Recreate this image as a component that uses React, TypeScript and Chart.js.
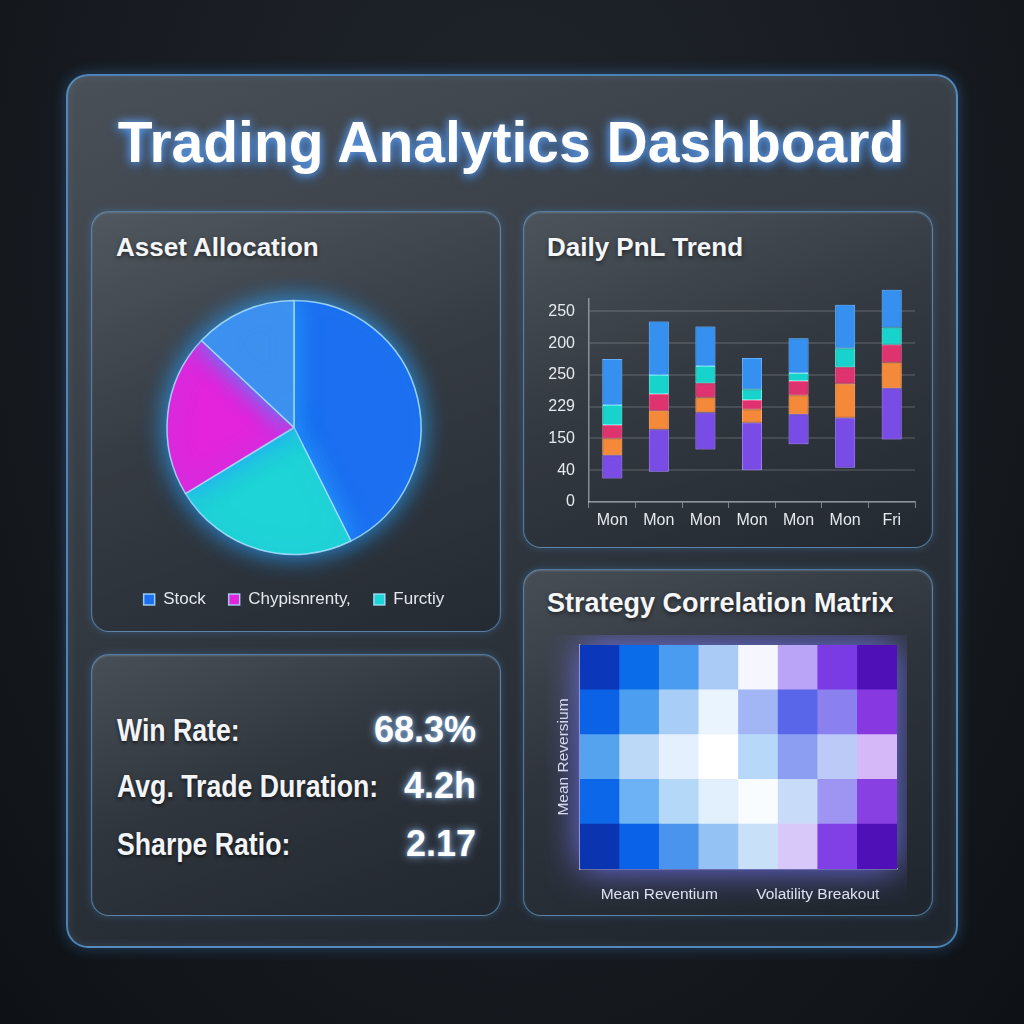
import React, { useEffect, useRef } from "react";
import { Chart, registerables } from "chart.js";

Chart.register(...registerables);

const FONT = "'Liberation Sans', Arial, sans-serif";

// ---------- Asset allocation (pie) ----------
const allocationLabels = ["Stock", "Furctiy", "Chypisnrenty,", "Other"];
const allocationValues = [42.6, 23.7, 20.7, 13.0];
const allocationColors = ["#1c6ff0", "#1fd4d6", "#e324dc", "#3e90ef"];
const allocationLegendOrder = ["Stock", "Chypisnrenty,", "Furctiy"];

// ---------- Daily PnL (floating stacked bars, in axis-tick units) ----------
const pnlDays = ["Mon", "Mon", "Mon", "Mon", "Mon", "Mon", "Fri"];
const pnlTickLabels = ["0", "40", "150", "229", "250", "200", "250"];
const purpleLow = [0.74, 0.95, 1.65, 1.0, 1.82, 1.08, 1.97];
const purpleHigh = [1.47, 2.28, 2.82, 2.49, 2.76, 2.65, 3.58];
const orangeHigh = [2.0, 2.87, 3.29, 2.92, 3.36, 3.72, 4.39];
const pinkHigh = [2.42, 3.4, 3.74, 3.21, 3.81, 4.24, 4.95];
const cyanHigh = [3.05, 4.0, 4.28, 3.55, 4.06, 4.84, 5.49];
const blueHigh = [4.5, 5.68, 5.52, 4.53, 5.15, 6.21, 6.68];

// ---------- Correlation matrix ----------
const heatCols = ["S1", "S2", "S3", "S4", "S5", "S6", "S7", "S8"];
const heatXLabels = ["Mean Reventium", "Volatility Breakout"];
const heatXLabelPos = [2, 6];
const heatYTitle = "Mean Reversium";
// rows listed top to bottom
const heatRow1 = ["#0b37ba", "#0a6ce8", "#4a9cf0", "#a9cbf6", "#f6f6fe", "#b9a4f8", "#7a3ae4", "#5010b8"];
const heatRow2 = ["#0c62e6", "#4c9ef0", "#a8cdf6", "#eaf4fe", "#a2b6f6", "#5a66ea", "#8a80f0", "#8838e0"];
const heatRow3 = ["#55a2ee", "#bcdaf8", "#e4f0fd", "#ffffff", "#b8d8fa", "#8c9ef2", "#bccaf8", "#d4b8f8"];
const heatRow4 = ["#0c68e8", "#6cb2f4", "#b4d8f8", "#e2f0fd", "#f8fcff", "#c8dcfa", "#9e94f2", "#8840e2"];
const heatRow5 = ["#0a34b0", "#0a62e8", "#4a94ee", "#94c2f4", "#c8e0f8", "#d8c8fa", "#8040e6", "#5010b8"];
const heatRows = [heatRow1, heatRow2, heatRow3, heatRow4, heatRow5];

// ---------- Stats ----------
const statLabels = ["Win Rate:", "Avg. Trade Duration:", "Sharpe Ratio:"];
const statValues = ["68.3%", "4.2h", "2.17"];

function ChartBox(props: { make: () => any; left: number; top: number; width: number; height: number }) {
  const ref = useRef<HTMLCanvasElement>(null);
  useEffect(() => {
    const chart = new Chart(ref.current as HTMLCanvasElement, props.make());
    return () => chart.destroy();
  }, []);
  return (
    <canvas
      ref={ref}
      width={props.width}
      height={props.height}
      style={{ position: "absolute", left: props.left, top: props.top, width: props.width, height: props.height, display: "block" }}
    />
  );
}

const pieGlow = {
  id: "pieGlow",
  beforeDatasetsDraw(chart: any) {
    const c = chart.ctx;
    c.save();
    c.shadowColor = "rgba(40,160,255,0.95)";
    c.shadowBlur = 26;
  },
  afterDatasetsDraw(chart: any) {
    chart.ctx.restore();
  },
};

const barGlow = {
  id: "barGlow",
  beforeDatasetDraw(chart: any, args: any) {
    const c = chart.ctx;
    c.save();
    c.shadowColor = chart.data.datasets[args.index].glow;
    c.shadowBlur = 12;
  },
  afterDatasetDraw(chart: any) {
    chart.ctx.restore();
  },
};

const heatGlow = {
  id: "heatGlow",
  beforeDatasetsDraw(chart: any) {
    const c = chart.ctx;
    const a = chart.chartArea;
    c.save();
    c.shadowColor = "rgba(120,120,255,0.9)";
    c.shadowBlur = 34;
    c.fillStyle = "#6a7ae8";
    c.fillRect(a.left, a.top, a.right - a.left, a.bottom - a.top);
    c.restore();
  },
};

function makePie() {
  return {
    type: "pie",
    data: {
      labels: allocationLabels,
      datasets: [
        {
          data: allocationValues,
          backgroundColor: allocationColors,
          borderColor: "rgba(170,225,255,0.85)",
          borderWidth: 1.5,
          radius: 127,
        },
      ],
    },
    options: {
      responsive: false,
      animation: false,
      layout: { padding: { top: 8, right: 10, left: 0, bottom: 0 } },
      plugins: {
        tooltip: { enabled: false },
        legend: {
          position: "bottom",
          labels: {
            color: "#e4e8ee",
            font: { family: FONT, size: 17 },
            boxWidth: 11,
            boxHeight: 11,
            padding: 23,
            filter: (item: any) => allocationLegendOrder.includes(item.text),
            sort: (a: any, b: any) => allocationLegendOrder.indexOf(a.text) - allocationLegendOrder.indexOf(b.text),
          },
        },
      },
    },
    plugins: [pieGlow],
  };
}

function seg(label: string, low: number[], high: number[], fill: string, border: string) {
  return {
    label,
    data: pnlDays.map((_, i) => [low[i], high[i]]),
    backgroundColor: fill,
    borderColor: border,
    glow: fill,
    borderWidth: 1,
    borderSkipped: false,
    grouped: false,
    clip: false,
    barPercentage: 0.43,
    categoryPercentage: 1,
  };
}

function makeBars() {
  return {
    type: "bar",
    data: {
      labels: pnlDays,
      datasets: [
        seg("Purple", purpleLow, purpleHigh, "#7a4ce6", "#b39bff"),
        seg("Orange", purpleHigh, orangeHigh, "#f5893a", "#ffb27a"),
        seg("Pink", orangeHigh, pinkHigh, "#df3370", "#ff7fa8"),
        seg("Cyan", pinkHigh, cyanHigh, "#17d3cc", "#8ff5f0"),
        seg("Blue", cyanHigh, blueHigh, "#3590f0", "#7cc0ff"),
      ],
    },
    options: {
      responsive: false,
      animation: false,
      layout: { padding: { top: 0, right: 10, left: 0, bottom: 0 } },
      plugins: { legend: { display: false }, tooltip: { enabled: false } },
      scales: {
        x: {
          offset: true,
          afterFit: (s: any) => {
            s.height = 38;
          },
          grid: { display: true, drawOnChartArea: false, drawTicks: true, tickLength: 6, color: "rgba(190,200,210,0.55)" },
          border: { display: true, color: "rgba(190,200,210,0.6)", width: 1.5 },
          ticks: { color: "#e6eaef", font: { family: FONT, size: 16 }, padding: 3 },
        },
        y: {
          min: 0,
          max: 6.4,
          afterFit: (s: any) => {
            s.width = 54;
          },
          afterBuildTicks: (axis: any) => {
            axis.ticks = pnlTickLabels.map((_, i) => ({ value: i }));
          },
          grid: { color: "rgba(255,255,255,0.12)", lineWidth: 2, drawTicks: false },
          border: { display: true, color: "rgba(190,200,210,0.6)", width: 1.5 },
          ticks: {
            color: "#e6eaef",
            font: { family: FONT, size: 16 },
            padding: 14,
            callback: (v: any) => pnlTickLabels[v],
          },
        },
      },
    },
    plugins: [barGlow],
  };
}

function makeHeat() {
  const rowsBottomUp = heatRows.slice().reverse();
  return {
    type: "bar",
    data: {
      labels: heatCols,
      datasets: rowsBottomUp.map((row, r) => ({
        label: "row" + r,
        data: heatCols.map(() => 1),
        backgroundColor: row,
        borderWidth: 0,
        barPercentage: 1,
        categoryPercentage: 1,
        xAxisID: "x",
      })),
    },
    options: {
      responsive: false,
      animation: false,
      layout: { padding: { top: 10, right: 10, left: 0, bottom: 0 } },
      plugins: { legend: { display: false }, tooltip: { enabled: false } },
      scales: {
        x: { stacked: true, display: false },
        x2: {
          type: "linear",
          axis: "x",
          position: "bottom",
          offset: false,
          min: 0,
          max: heatCols.length,
          bounds: "data",
          afterFit: (s: any) => {
            s.height = 36;
          },
          afterBuildTicks: (axis: any) => {
            axis.ticks = heatXLabelPos.map((p) => ({ value: p }));
          },
          grid: { display: false, offset: false },
          border: { display: true, color: "rgba(200,210,225,0.75)", width: 1.5 },
          ticks: {
            color: "#e6eaef",
            font: { family: FONT, size: 15.5 },
            padding: 8,
            callback: (_v: any, i: number) => heatXLabels[i],
          },
        },
        y: {
          stacked: true,
          min: 0,
          max: heatRows.length,
          afterFit: (s: any) => {
            s.width = 35;
          },
          grid: { display: false },
          border: { display: true, color: "rgba(200,210,225,0.75)", width: 1.5 },
          ticks: { display: false },
          title: {
            display: true,
            text: heatYTitle,
            color: "#e6eaef",
            font: { family: FONT, size: 15.5 },
            padding: { top: 9, bottom: 0 },
          },
        },
      },
    },
    plugins: [heatGlow],
  };
}

const cardStyle = (left: number, top: number, width: number, height: number): React.CSSProperties => ({
  position: "absolute",
  left,
  top,
  width,
  height,
  boxSizing: "border-box",
  borderRadius: 18,
  border: "1.5px solid rgba(110,170,225,0.6)",
  background: "linear-gradient(160deg, rgba(92,99,107,0.55) 0%, rgba(52,58,66,0.55) 45%, rgba(32,38,46,0.6) 100%)",
  boxShadow: "0 0 8px rgba(70,150,230,0.3), inset 0 1px 2px rgba(170,210,250,0.25)",
});

const cardTitle = (left: number, top: number, size: number): React.CSSProperties => ({
  position: "absolute",
  left,
  top,
  fontFamily: FONT,
  fontWeight: 700,
  fontSize: size,
  lineHeight: size + "px",
  color: "#f4f6f8",
  whiteSpace: "nowrap",
  textShadow: "0 2px 4px rgba(0,0,0,0.5)",
});

export default function App() {
  const statTops = [741, 797, 855];
  return (
    <div
      style={{
        position: "absolute",
        left: 0,
        top: 0,
        width: 1024,
        height: 1024,
        overflow: "hidden",
        background: "radial-gradient(ellipse at 50% 25%, #20252c 0%, #181c22 55%, #0e1216 100%)",
      }}
    >
      {/* main panel */}
      <div
        style={{
          position: "absolute",
          left: 66,
          top: 74,
          width: 892,
          height: 874,
          boxSizing: "border-box",
          borderRadius: 22,
          border: "2px solid rgba(90,160,225,0.75)",
          background: "linear-gradient(158deg, #4a5057 0%, #3a4047 30%, #2a3037 65%, #1f252c 100%)",
          boxShadow: "0 0 14px rgba(70,150,230,0.35), inset 0 0 10px rgba(120,180,240,0.15)",
        }}
      />
      <div
        style={{
          position: "absolute",
          left: 0,
          top: 114,
          width: 1022,
          textAlign: "center",
          fontFamily: FONT,
          fontWeight: 700,
          fontSize: 57,
          lineHeight: "57px",
          color: "#ffffff",
          whiteSpace: "nowrap",
          textShadow: "0 0 10px rgba(110,175,255,0.9), 0 3px 12px rgba(40,120,230,0.75)",
        }}
      >
        Trading Analytics Dashboard
      </div>

      {/* cards */}
      <div style={cardStyle(91, 211, 410, 421)} />
      <div style={cardStyle(523, 211, 410, 337)} />
      <div style={cardStyle(91, 654, 410, 262)} />
      <div style={cardStyle(523, 569, 410, 347)} />

      <div style={cardTitle(116, 234, 26)}>Asset Allocation</div>
      <div style={cardTitle(547, 234, 26)}>Daily PnL Trend</div>
      <div style={cardTitle(547, 590, 27)}>Strategy Correlation Matrix</div>

      <ChartBox make={makePie} left={104} top={279} width={390} height={339} />
      <ChartBox make={makeBars} left={535} top={275} width={390} height={265} />
      <ChartBox make={makeHeat} left={545} top={635} width={362} height={270} />

      {statLabels.map((t, i) => (
        <div
          key={"l" + i}
          style={{
            position: "absolute",
            left: 117,
            top: statTops[i] - 26.2,
            fontFamily: FONT,
            fontWeight: 700,
            fontSize: 31,
            lineHeight: "31px",
            color: "#f2f4f7",
            whiteSpace: "nowrap",
            transform: "scaleX(0.86)",
            transformOrigin: "left center",
            textShadow: "0 2px 4px rgba(0,0,0,0.6)",
          }}
        >
          {t}
        </div>
      ))}
      {statValues.map((t, i) => (
        <div
          key={"v" + i}
          style={{
            position: "absolute",
            right: 1024 - 476,
            top: statTops[i] + 1 - 30.5,
            fontFamily: FONT,
            fontWeight: 700,
            fontSize: 36,
            lineHeight: "36px",
            color: "#ffffff",
            whiteSpace: "nowrap",
            textShadow: "0 0 8px rgba(150,200,255,0.85), 0 0 3px rgba(150,200,255,0.6)",
          }}
        >
          {t}
        </div>
      ))}
    </div>
  );
}
